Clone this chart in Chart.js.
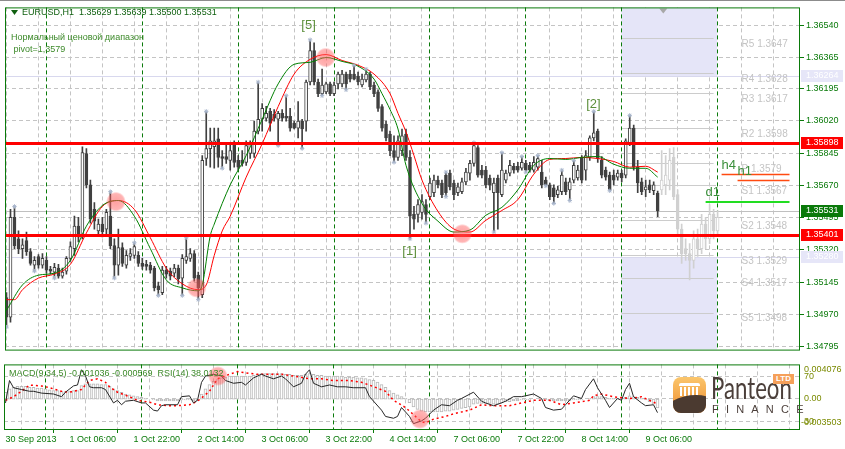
<!DOCTYPE html>
<html lang="ru">
<head>
<meta charset="UTF-8">
<title>EURUSD,H1</title>
<script src="https://cdn.jsdelivr.net/npm/chart.js"></script>
<style>
  body { margin: 0; background: #fff; }
  #wrap { position: relative; width: 845px; height: 449px; overflow: hidden; background: #fff; }
  #wrap:before { content: ''; position: absolute; left: 0; top: 0; width: 845px; height: 1px; background: #8c8c8c; }
  #main { position: absolute; left: 0; top: 0; }
  #sub { position: absolute; left: 0; top: 355px; }
  #logo { position: absolute; left: 671px; top: 372px; width: 128px; height: 45px; }
  #logo .icon { position: absolute; left: 2px; top: 5px; width: 33px; height: 36px; border-radius: 8px; overflow: hidden;
    background: linear-gradient(#fbc66c, #ee8d2f); }
  #logo .roof { position: absolute; left: 6px; top: 6px; width: 21px; height: 3px; background: #fff; border-radius: 2px 2px 0 0; }
  #logo .cols { position: absolute; left: 7px; top: 10px; width: 19px; height: 9px;
    background: repeating-linear-gradient(90deg, #fff 0 2px, transparent 2px 4px); }
  #logo .swoosh { position: absolute; left: -16px; top: 19px; width: 64px; height: 40px; border-radius: 50%;
    background: #4b3a30; transform: rotate(-14deg); }
  #logo .name { position: absolute; left: 40px; top: -3px; font: 30px Lato, sans-serif; color: #4b3f3a;
    transform: scaleX(0.74); transform-origin: left top; }
  #logo .ltd { position: absolute; left: 102px; top: 2px; width: 21px; height: 10px; background: #f5a05a; color: #fff;
    font: bold 8px "Liberation Sans", Arial, sans-serif; text-align: center; line-height: 10px; }
  #logo .fin { position: absolute; left: 41px; top: 31px; font: 11px "Liberation Sans", Arial, sans-serif;
    letter-spacing: 7.2px; color: #4b3f3a; }
</style>
</head>
<body>
<div id="wrap">
  <canvas id="main" width="845" height="357"></canvas>
  <canvas id="sub" width="845" height="94"></canvas>
  <div id="logo">
    <div class="icon"><div class="roof"></div><div class="cols"></div><div class="swoosh"></div></div>
    <div class="name">Panteon</div>
    <div class="ltd">LTD</div>
    <div class="fin">FINANCE</div>
  </div>
</div>
<script>
// EURUSD H1, bar 0 = 30 Sep 14:00, one bar per hour
const opens = [
  1.35061, 1.34955, 1.35497, 1.35380, 1.35327, 1.35370, 1.35311, 1.35237, 1.35284, 1.35237,
  1.35263, 1.35215, 1.35199, 1.35221, 1.35178, 1.35205, 1.35274, 1.35327, 1.35449, 1.35396,
  1.35843, 1.35673, 1.35540, 1.35423, 1.35460, 1.35433, 1.35503, 1.35343, 1.35237, 1.35332,
  1.35237, 1.35284, 1.35290, 1.35290, 1.35247, 1.35242, 1.35237, 1.35221, 1.35125, 1.35088,
  1.35210, 1.35205, 1.35194, 1.35221, 1.35167, 1.35263, 1.35274, 1.35300, 1.35183, 1.35077,
  1.35816, 1.35870, 1.35880, 1.35923, 1.35827, 1.35827, 1.35806, 1.35896, 1.35806, 1.35806,
  1.35795, 1.35843, 1.35843, 1.35965, 1.36029, 1.36035, 1.36072, 1.36056, 1.36029, 1.36061,
  1.36045, 1.36045, 1.36008, 1.35981, 1.36019, 1.36019, 1.36231, 1.36402, 1.36231, 1.36168,
  1.36178, 1.36221, 1.36168, 1.36221, 1.36221, 1.36274, 1.36274, 1.36274, 1.36263, 1.36215,
  1.36242, 1.36274, 1.36215, 1.36178, 1.36098, 1.36003, 1.35949, 1.35859, 1.35822, 1.35859,
  1.35949, 1.35822, 1.35513, 1.35513, 1.35524, 1.35566, 1.35609, 1.35630, 1.35699, 1.35683,
  1.35726, 1.35737, 1.35683, 1.35630, 1.35636, 1.35689, 1.35737, 1.35790, 1.35875, 1.35753,
  1.35753, 1.35710, 1.35630, 1.35710, 1.35620, 1.35699, 1.35737, 1.35774, 1.35774, 1.35763,
  1.35790, 1.35779, 1.35753, 1.35769, 1.35742, 1.35699, 1.35673, 1.35657, 1.35620, 1.35636,
  1.35689, 1.35646, 1.35699, 1.35710, 1.35822, 1.35753, 1.35822, 1.35928, 1.35965, 1.35806,
  1.35753, 1.35726, 1.35726, 1.35715, 1.35737, 1.35726, 1.35902, 1.35981, 1.35769, 1.35689,
  1.35646, 1.35673, 1.35641, 1.35629
];
const highs = [
  1.35088, 1.35540, 1.35556, 1.35423, 1.35380, 1.35417, 1.35327, 1.35284, 1.35295, 1.35300,
  1.35284, 1.35231, 1.35247, 1.35242, 1.35221, 1.35284, 1.35364, 1.35503, 1.35497, 1.35880,
  1.35870, 1.35699, 1.35577, 1.35487, 1.35497, 1.35540, 1.35636, 1.35380, 1.35433, 1.35359,
  1.35316, 1.35327, 1.35359, 1.35311, 1.35274, 1.35263, 1.35253, 1.35231, 1.35146, 1.35231,
  1.35231, 1.35221, 1.35242, 1.35237, 1.35295, 1.35386, 1.35327, 1.35316, 1.35199, 1.35832,
  1.36072, 1.35981, 1.35981, 1.35981, 1.35859, 1.35896, 1.35902, 1.35912, 1.35832, 1.35859,
  1.35912, 1.35912, 1.36019, 1.36231, 1.36114, 1.36099, 1.36088, 1.36082, 1.36072, 1.36082,
  1.36157, 1.36088, 1.36019, 1.36125, 1.36029, 1.36242, 1.36460, 1.36444, 1.36247, 1.36301,
  1.36231, 1.36231, 1.36231, 1.36285, 1.36295, 1.36285, 1.36295, 1.36322, 1.36285, 1.36274,
  1.36301, 1.36285, 1.36231, 1.36189, 1.36109, 1.36019, 1.35965, 1.35939, 1.35939, 1.35976,
  1.35976, 1.35859, 1.35556, 1.35593, 1.35620, 1.35593, 1.35710, 1.35726, 1.35721, 1.35699,
  1.35742, 1.35753, 1.35699, 1.35683, 1.35710, 1.35763, 1.35806, 1.35902, 1.35886, 1.35779,
  1.35774, 1.35726, 1.35710, 1.35726, 1.35848, 1.35753, 1.35806, 1.35790, 1.35795, 1.35827,
  1.35806, 1.35795, 1.35827, 1.35832, 1.35806, 1.35715, 1.35683, 1.35673, 1.35667, 1.35753,
  1.35710, 1.35710, 1.35806, 1.35779, 1.35832, 1.35859, 1.35939, 1.36072, 1.35976, 1.35827,
  1.35769, 1.35742, 1.35753, 1.35753, 1.35753, 1.35923, 1.36050, 1.35997, 1.35806, 1.35710,
  1.35699, 1.35699, 1.35689, 1.35639
];
const lows = [
  1.34901, 1.34928, 1.35327, 1.35300, 1.35274, 1.35290, 1.35237, 1.35205, 1.35221, 1.35221,
  1.35194, 1.35189, 1.35167, 1.35167, 1.35167, 1.35189, 1.35258, 1.35290, 1.35364, 1.35380,
  1.35657, 1.35465, 1.35433, 1.35401, 1.35391, 1.35407, 1.35327, 1.35167, 1.35183, 1.35231,
  1.35221, 1.35263, 1.35274, 1.35231, 1.35215, 1.35210, 1.35194, 1.35098, 1.35072, 1.35077,
  1.35167, 1.35157, 1.35173, 1.35136, 1.35072, 1.35247, 1.35258, 1.35151, 1.35050, 1.35061,
  1.35779, 1.35769, 1.35763, 1.35769, 1.35763, 1.35790, 1.35753, 1.35769, 1.35753, 1.35774,
  1.35779, 1.35816, 1.35822, 1.35949, 1.35965, 1.36019, 1.35965, 1.36019, 1.35886, 1.36019,
  1.36019, 1.35965, 1.35976, 1.35928, 1.35870, 1.35965, 1.36215, 1.36215, 1.36152, 1.36157,
  1.36168, 1.36157, 1.36157, 1.36194, 1.36205, 1.36189, 1.36231, 1.36242, 1.36215, 1.36205,
  1.36231, 1.36189, 1.36152, 1.36072, 1.35965, 1.35912, 1.35832, 1.35795, 1.35806, 1.35832,
  1.35806, 1.35380, 1.35433, 1.35471, 1.35487, 1.35465, 1.35593, 1.35609, 1.35657, 1.35604,
  1.35609, 1.35646, 1.35593, 1.35614, 1.35625, 1.35673, 1.35699, 1.35774, 1.35715, 1.35710,
  1.35657, 1.35646, 1.35417, 1.35433, 1.35609, 1.35683, 1.35721, 1.35737, 1.35742, 1.35753,
  1.35742, 1.35742, 1.35742, 1.35753, 1.35657, 1.35667, 1.35593, 1.35572, 1.35604, 1.35620,
  1.35620, 1.35588, 1.35683, 1.35699, 1.35683, 1.35699, 1.35806, 1.35912, 1.35795, 1.35710,
  1.35699, 1.35641, 1.35673, 1.35699, 1.35689, 1.35710, 1.35886, 1.35753, 1.35630, 1.35620,
  1.35609, 1.35630, 1.35620, 1.35500
];
const closes = [
  1.34955, 1.35497, 1.35343, 1.35327, 1.35348, 1.35311, 1.35247, 1.35263, 1.35237, 1.35274,
  1.35210, 1.35205, 1.35226, 1.35178, 1.35199, 1.35274, 1.35338, 1.35449, 1.35391, 1.35848,
  1.35673, 1.35487, 1.35476, 1.35460, 1.35417, 1.35524, 1.35343, 1.35237, 1.35332, 1.35247,
  1.35290, 1.35300, 1.35338, 1.35247, 1.35231, 1.35231, 1.35210, 1.35114, 1.35104, 1.35210,
  1.35189, 1.35178, 1.35221, 1.35162, 1.35274, 1.35284, 1.35300, 1.35167, 1.35114, 1.35806,
  1.35870, 1.35912, 1.35912, 1.35822, 1.35816, 1.35811, 1.35859, 1.35795, 1.35769, 1.35790,
  1.35886, 1.35896, 1.35965, 1.36029, 1.36088, 1.36061, 1.36008, 1.36035, 1.36061, 1.36035,
  1.36035, 1.35981, 1.35981, 1.36019, 1.35976, 1.36231, 1.36402, 1.36231, 1.36168, 1.36215,
  1.36221, 1.36168, 1.36215, 1.36274, 1.36274, 1.36221, 1.36247, 1.36247, 1.36231, 1.36247,
  1.36274, 1.36205, 1.36168, 1.36088, 1.35981, 1.35928, 1.35859, 1.35822, 1.35912, 1.35939,
  1.35822, 1.35503, 1.35487, 1.35566, 1.35582, 1.35513, 1.35683, 1.35699, 1.35673, 1.35620,
  1.35630, 1.35662, 1.35620, 1.35662, 1.35689, 1.35742, 1.35790, 1.35886, 1.35726, 1.35726,
  1.35673, 1.35673, 1.35683, 1.35630, 1.35753, 1.35737, 1.35779, 1.35753, 1.35753, 1.35795,
  1.35753, 1.35753, 1.35795, 1.35816, 1.35673, 1.35673, 1.35609, 1.35609, 1.35646, 1.35726,
  1.35636, 1.35689, 1.35779, 1.35753, 1.35699, 1.35832, 1.35928, 1.35955, 1.35816, 1.35726,
  1.35715, 1.35646, 1.35699, 1.35737, 1.35710, 1.35912, 1.35981, 1.35769, 1.35683, 1.35636,
  1.35662, 1.35646, 1.35673, 1.35531
];

// projected (light grey) bars after the last real bar
const ghostStart = 164;
const ghostOpen  = [1.35646, 1.35673, 1.35699, 1.35822, 1.35620, 1.35433, 1.35327, 1.35300, 1.35263, 1.35380, 1.35327, 1.35460, 1.35380, 1.35513, 1.35423];
const ghostHigh  = [1.35859, 1.35832, 1.35870, 1.35875, 1.35646, 1.35460, 1.35380, 1.35354, 1.35423, 1.35433, 1.35513, 1.35497, 1.35566, 1.35540, 1.35534];
const ghostLow   = [1.35620, 1.35620, 1.35646, 1.35593, 1.35407, 1.35247, 1.35263, 1.35157, 1.35221, 1.35284, 1.35300, 1.35327, 1.35354, 1.35380, 1.35401];
const ghostClose = [1.35699, 1.35726, 1.35806, 1.35609, 1.35433, 1.35300, 1.35300, 1.35263, 1.35380, 1.35327, 1.35460, 1.35380, 1.35513, 1.35423, 1.35497];

// moving averages: [bar, price]
const maFast = [[0,1.34992],[4,1.35130],[8,1.35183],[12,1.35194],[16,1.35263],[20,1.35449],[24,1.35561],[28,1.35588],
  [32,1.35503],[36,1.35327],[40,1.35157],[44,1.35114],[48,1.35098],[49,1.35130],[51,1.35396],[52,1.35460],[56,1.35673],
  [60,1.35832],[64,1.36029],[68,1.36221],[72,1.36327],[76,1.36338],[80,1.36364],[84,1.36343],[88,1.36317],[92,1.36247],
  [94,1.36168],[96,1.36082],[98,1.35976],[100,1.35779],[104,1.35572],[108,1.35476],[112,1.35417],[116,1.35428],
  [120,1.35508],[124,1.35551],[128,1.35646],[132,1.35779],[136,1.35816],[140,1.35811],[144,1.35822],[148,1.35827],
  [152,1.35785],[156,1.35763],[160,1.35763],[163,1.35715]];
const maSlow = [[0,1.35050],[2,1.35050],[4,1.35104],[8,1.35167],[12,1.35189],[16,1.35242],[20,1.35412],[24,1.35556],
  [28,1.35588],[32,1.35540],[36,1.35386],[40,1.35221],[44,1.35136],[48,1.35104],[50,1.35130],[52,1.35290],[54,1.35423],
  [56,1.35503],[60,1.35715],[64,1.35896],[68,1.36098],[72,1.36274],[76,1.36354],[80,1.36380],[84,1.36348],[88,1.36322],
  [92,1.36274],[96,1.36168],[98,1.36061],[100,1.35960],[102,1.35832],[104,1.35699],[108,1.35529],[112,1.35433],
  [116,1.35417],[120,1.35481],[124,1.35534],[128,1.35593],[132,1.35731],[136,1.35811],[140,1.35816],[144,1.35822],
  [148,1.35816],[152,1.35800],[156,1.35769],[160,1.35774],[163,1.35742]];

// fractal marks (bar numbers)
const fractalUp = [2, 26, 32, 45, 50, 63, 70, 76, 87, 90, 110, 117, 124, 129, 133, 139, 142, 147, 156];
const fractalDown = [0, 7, 12, 27, 38, 44, 48, 54, 68, 74, 79, 85, 97, 101, 105, 110, 122, 130, 135, 137, 141, 151];

// MACD(9,34,5) main, one per bar
const macd = [
  0.0008, 0.0012, 0.0014, 0.0015, 0.0015, 0.0015, 0.0014, 0.0014, 0.0013, 0.0013,
  0.0012, 0.0011, 0.0010, 0.0010, 0.0009, 0.0009, 0.0009, 0.0010, 0.0010, 0.0016,
  0.0018, 0.0018, 0.0018, 0.0018, 0.0017, 0.0017, 0.0015, 0.0012, 0.0010, 0.0008,
  0.0006, 0.0005, 0.0004, 0.0003, 0.0002, 0.0001, 0.0000, -0.0001, -0.0002, -0.0002,
  -0.0002, -0.0002, -0.0002, -0.0002, -0.0001, -0.0001, -0.0001, -0.0002, -0.0002, 0.0006,
  0.0012, 0.0017, 0.0021, 0.0023, 0.0025, 0.0026, 0.0027, 0.0027, 0.0027, 0.0027,
  0.0027, 0.0027, 0.0028, 0.0029, 0.0030, 0.0030, 0.0030, 0.0030, 0.0030, 0.0030,
  0.0029, 0.0029, 0.0028, 0.0028, 0.0028, 0.0029, 0.0030, 0.0029, 0.0028, 0.0028,
  0.0027, 0.0027, 0.0027, 0.0027, 0.0027, 0.0026, 0.0026, 0.0026, 0.0025, 0.0025,
  0.0024, 0.0023, 0.0022, 0.0020, 0.0017, 0.0014, 0.0010, 0.0007, 0.0005, 0.0003,
  0.0001, -0.0004, -0.0009, -0.0012, -0.0014, -0.0015, -0.0015, -0.0015, -0.0015, -0.0015,
  -0.0014, -0.0014, -0.0013, -0.0012, -0.0011, -0.0010, -0.0009, -0.0006, -0.0005, -0.0005,
  -0.0005, -0.0005, -0.0006, -0.0006, -0.0004, -0.0003, -0.0003, -0.0002, -0.0002, -0.0001,
  -0.0001, -0.0001, 0.0000, 0.0000, -0.0001, -0.0001, -0.0002, -0.0002, -0.0002, -0.0002,
  -0.0002, -0.0002, -0.0001, -0.0001, -0.0001, 0.0000, 0.0001, 0.0003, 0.0003, 0.0003,
  0.0002, 0.0001, 0.0001, 0.0001, 0.0000, 0.0002, 0.0004, 0.0003, 0.0002, 0.0001,
  -0.0001, -0.0003, -0.0006, -0.001036
];
const macdSignal = [[0,-0.00014],[2,0.00028],[4,0.00092],[6,0.00165],[9,0.00155],[11,0.00134],[14,0.00092],[16,0.00081],
  [19,0.00113],[21,0.00218],[23,0.00239],[25,0.00197],[26,0.00144],[28,0.00081],[31,0.00028],[33,-0.00014],[36,-0.00035],
  [38,-0.00066],[41,-0.00077],[43,-0.00077],[46,-0.00066],[48,-0.00024],[51,0.00092],[53,0.00239],[56,0.00292],[58,0.00323],
  [61,0.00302],[63,0.00292],[66,0.00292],[69,0.00292],[72,0.00271],[76,0.00239],[79,0.00239],[82,0.00218],[86,0.00218],
  [89,0.00197],[91,0.00165],[95,0.00092],[97,-0.00014],[100,-0.00098],[102,-0.00182],[104,-0.00266],[105,-0.00277],
  [107,-0.00235],[110,-0.00203],[112,-0.00172],[116,-0.00129],[119,-0.00066],[122,-0.00077],[126,-0.00077],[129,-0.00045],
  [132,-0.00014],[136,-0.00014],[139,-0.00066],[142,-0.00045],[146,-0.00014],[147,0.00039],[149,0.00060],[152,0.00028],
  [156,0.00007],[159,0.00028],[162,-0.00035],[163,-0.000569]];
const rsi = [[0,46.5],[1,66.1],[2,59.8],[4,58.2],[6,56.7],[7,56.7],[9,55.1],[12,54.3],[14,52.0],[15,55.9],[17,61.4],
  [18,62.2],[19,75.5],[20,70.0],[21,60.6],[22,59.8],[24,59.8],[25,58.2],[27,46.5],[28,48.8],[29,44.9],[30,48.0],[32,48.8],
  [34,46.5],[35,46.5],[37,40.2],[38,39.4],[39,44.1],[40,44.9],[43,44.9],[44,52.0],[46,52.7],[47,46.5],[48,48.8],[49,64.5],
  [50,70.0],[52,71.6],[54,70.0],[55,66.1],[57,63.7],[59,64.5],[60,62.2],[62,68.4],[64,71.6],[65,70.0],[67,67.6],[69,70.0],
  [70,67.6],[72,60.6],[74,63.7],[75,71.6],[76,75.5],[77,63.7],[79,60.6],[81,62.2],[83,60.6],[85,60.6],[87,59.8],[90,59.8],
  [91,52.0],[94,40.2],[95,34.7],[97,33.1],[98,34.7],[99,42.5],[101,34.7],[102,28.4],[104,30.8],[105,33.1],[107,40.2],
  [109,44.9],[111,44.1],[113,48.8],[114,50.4],[117,55.9],[119,48.0],[120,46.5],[122,44.1],[124,46.5],[125,48.0],[127,52.0],
  [129,52.0],[130,52.7],[132,54.3],[134,50.4],[135,42.5],[137,40.2],[139,41.0],[140,44.9],[142,52.7],[144,50.4],[145,58.2],
  [147,67.6],[148,59.8],[150,48.8],[151,42.5],[153,50.4],[154,48.8],[155,58.2],[156,63.7],[157,52.0],[159,46.5],[160,44.1],
  [162,44.9],[163,38.0]];

// axis ticks and labels
const timeLabels = ['30 Sep 2013', '1 Oct 06:00', '1 Oct 22:00', '2 Oct 14:00', '3 Oct 06:00', '3 Oct 22:00',
  '4 Oct 14:00', '7 Oct 06:00', '7 Oct 22:00', '8 Oct 14:00', '9 Oct 06:00'];
const priceTicks = [1.34795, 1.34970, 1.35145, 1.35320, 1.35495, 1.35670, 1.35845, 1.36020, 1.36195, 1.36365, 1.36540];
const daySeparators = [10, 34, 58, 82, 106, 130, 154, 178];

// chart objects
const redLevels = [1.35898, 1.35401];
const bidPrice = 1.35531;
const zoneLevels = [1.36264, 1.35280];
const zoneFrom = 153.9, zoneTo = 177.9;
const pivotNames = ['R5', 'R4', 'R3', 'R2', 'P', 'S1', 'S2', 'S3', 'S4', 'S5'];
const pivotValues = [1.3647, 1.3628, 1.3617, 1.3598, 1.3579, 1.3567, 1.3548, 1.3529, 1.3517, 1.3498];
const pivotFrom = 154, pivotTo = 177, pivotLabelAt = 184;
const tfNames = ['h4', 'h1', 'd1'];
const tfLevels = [1.35731, 1.35699, 1.35582];
const tfFrom = [179, 183, 175], tfTo = 196;
const waveLabels = [['[5]', 75.6, 1.36540], ['[2]', 146.9, 1.36109], ['[1]', 100.9, 1.35311]];
const mainCircles = [[27.4, 1.35582], [79.9, 1.36364], [47.6, 1.35114], [114.1, 1.35407]];
const subCircles = [[53.1, 70.0], [103.6, 32.4]];

const GREEN = '#0a7a0a';
const TXT = '#3d8a2a';
const FONT = '"Liberation Sans", Arial, sans-serif';
Chart.defaults.font.family = FONT;
Chart.defaults.font.size = 9;

const xMin = -0.375, xMax = 198.625;

function xAxis() {
  return {
    type: 'linear', min: xMin, max: xMax, offset: false,
    afterBuildTicks: s => { s.ticks = []; for (let v = 0; v <= 192; v += 8) s.ticks.push({ value: v }); },
    grid: { color: '#c4c4c4', drawTicks: false, offset: false },
    border: { display: false, dash: [4, 3] }
  };
}

function circle(ctx, x, y) {
  const g = ctx.createRadialGradient(x, y, 2, x, y, 10);
  g.addColorStop(0, 'rgba(255,90,90,0.55)');
  g.addColorStop(0.75, 'rgba(255,90,90,0.45)');
  g.addColorStop(1, 'rgba(255,90,90,0)');
  ctx.fillStyle = g;
  ctx.beginPath(); ctx.arc(x, y, 10, 0, Math.PI * 2); ctx.fill();
}

function hline(ctx, y, x0, x1, color, w) {
  const yy = Math.round(y) + (w % 2 ? 0.5 : 0);
  ctx.strokeStyle = color; ctx.lineWidth = w;
  ctx.beginPath(); ctx.moveTo(x0, yy); ctx.lineTo(x1, yy); ctx.stroke();
}

function separators(chart) {
  const { ctx, chartArea: a, scales: { x } } = chart;
  ctx.save();
  ctx.setLineDash([4, 3]);
  ctx.strokeStyle = '#0a7a0a'; ctx.lineWidth = 1;
  daySeparators.forEach(i => {
    const px = Math.floor(x.getPixelForValue(i)) + 0.5;
    ctx.beginPath(); ctx.moveTo(px, a.top); ctx.lineTo(px, a.bottom); ctx.stroke();
  });
  ctx.restore();
}

function frame(chart) {
  const { ctx, chartArea: a } = chart;
  ctx.save();
  ctx.strokeStyle = '#0a7a0a'; ctx.lineWidth = 1;
  ctx.strokeRect(a.left + 0.5, a.top + 0.5, a.right - a.left - 1, a.bottom - a.top);
  ctx.restore();
}

const mainDecor = {
  id: 'mainDecor',
  beforeDatasetsDraw(chart) {
    const { ctx, chartArea: a, scales: { x, y } } = chart;
    ctx.save();
    ctx.beginPath(); ctx.rect(a.left, a.top, a.right - a.left, a.bottom - a.top); ctx.clip();
    // time zones
    const zx0 = x.getPixelForValue(zoneFrom), zx1 = x.getPixelForValue(zoneTo);
    ctx.fillStyle = '#e5e5f8';
    ctx.fillRect(zx0, a.top, zx1 - zx0, y.getPixelForValue(zoneLevels[0]) - a.top);
    const zb = y.getPixelForValue(zoneLevels[1]);
    ctx.fillRect(zx0, zb, zx1 - zx0, a.bottom - zb);
    zoneLevels.forEach(v => hline(ctx, y.getPixelForValue(v), a.left, a.right, '#d8d8ee', 1));
    hline(ctx, y.getPixelForValue(bidPrice), a.left, a.right, '#c0c0c0', 1);
    // pivots
    pivotValues.forEach(v => hline(ctx, y.getPixelForValue(v), x.getPixelForValue(pivotFrom), x.getPixelForValue(pivotTo), '#cccccc', 1));
    ctx.restore();
    separators(chart);
  },
  afterDatasetsDraw(chart) {
    const { ctx, chartArea: a, scales: { x, y } } = chart;
    ctx.save();
    ctx.beginPath(); ctx.rect(a.left, a.top, a.right - a.left, a.bottom - a.top); ctx.clip();
    redLevels.forEach(v => hline(ctx, y.getPixelForValue(v), a.left, a.right, '#ff0000', 3));
    tfLevels.forEach((v, k) => hline(ctx, y.getPixelForValue(v), x.getPixelForValue(tfFrom[k]), x.getPixelForValue(tfTo),
      k < 2 ? '#ff4a10' : '#22dd22', k < 2 ? 1.5 : 2));
    mainCircles.forEach(([i, v]) => circle(ctx, x.getPixelForValue(i), y.getPixelForValue(v)));
    // texts
    ctx.textBaseline = 'middle';
    ctx.font = '10px ' + FONT;
    ctx.fillStyle = '#c4c4c4';
    pivotNames.forEach((n, k) => ctx.fillText(n + ' ' + pivotValues[k].toFixed(4), x.getPixelForValue(pivotLabelAt), y.getPixelForValue(pivotValues[k]) + 6));
    ctx.font = '13px ' + FONT;
    ctx.fillStyle = '#3a8f3a';
    tfNames.forEach((n, k) => ctx.fillText(n, x.getPixelForValue(tfFrom[k]), y.getPixelForValue(tfLevels[k]) - 9));
    ctx.fillStyle = '#5b8e3a';
    ctx.textAlign = 'center';
    waveLabels.forEach(([t, i, v]) => ctx.fillText(t, x.getPixelForValue(i), y.getPixelForValue(v)));
    ctx.textAlign = 'left';
    ctx.font = '9px ' + FONT;
    ctx.fillStyle = TXT;
    ctx.fillText('Нормальный ценовой диапазон', a.left + 6, 38);
    ctx.fillText(' pivot=1,3579', a.left + 6, 50);
    ctx.fillStyle = '#106010';
    ctx.fillText('EURUSD,H1  1.35629 1.35639 1.35500 1.35531', a.left + 17, 13);
    ctx.beginPath(); ctx.moveTo(a.left + 6, 10); ctx.lineTo(a.left + 13, 10); ctx.lineTo(a.left + 9.5, 15); ctx.closePath(); ctx.fill();
    // shift marker
    const sx = x.getPixelForValue(164.4);
    ctx.fillStyle = '#a8a8a8';
    ctx.beginPath(); ctx.moveTo(sx - 4, a.top + 1); ctx.lineTo(sx + 4, a.top + 1); ctx.lineTo(sx, a.top + 6); ctx.closePath(); ctx.fill();
    ctx.restore();
  },
  afterDraw(chart) {
    const { ctx, chartArea: a, scales: { y } } = chart;
    frame(chart);
    ctx.save();
    ctx.textBaseline = 'middle';
    ctx.font = '9px ' + FONT;
    const boxes = [[zoneLevels[0], '#e6e6f8'], [zoneLevels[1], '#e6e6f8'], [redLevels[0], '#ff0000'], [redLevels[1], '#ff0000'], [bidPrice, '#0a7a0a']];
    boxes.forEach(([v, bg]) => {
      const py = Math.round(y.getPixelForValue(v));
      ctx.fillStyle = bg;
      ctx.fillRect(a.right + 1, py - 6, 42, 12);
      ctx.fillStyle = '#ffffff';
      ctx.fillText(v.toFixed(5), a.right + 6, py);
    });
    ctx.restore();
  }
};

const candleData = opens.map((o, i) => ({ x: i, y: [o, closes[i]] }));
const wickData = opens.map((o, i) => ({ x: i, y: [lows[i], highs[i]] }));
const ghostCandle = ghostOpen.map((o, k) => ({ x: ghostStart + k, y: [o, ghostClose[k]] }));
const ghostWick = ghostOpen.map((o, k) => ({ x: ghostStart + k, y: [ghostLow[k], ghostHigh[k]] }));

new Chart(document.getElementById('main'), {
  type: 'bar',
  data: {
    datasets: [
      { label: 'ghost wick', data: ghostWick, backgroundColor: '#d0d0d0', barThickness: 1, grouped: false, order: 9 },
      { label: 'ghost body', data: ghostCandle, barThickness: 3, grouped: false, minBarLength: 1, order: 8,
        backgroundColor: ghostOpen.map((o, k) => ghostClose[k] >= o ? '#ffffff' : '#d0d0d0'),
        borderColor: '#d0d0d0', borderWidth: 1, borderSkipped: false },
      { label: 'wick', data: wickData, backgroundColor: '#404040', barThickness: 1, grouped: false, order: 7 },
      { label: 'body', data: candleData, barThickness: 3, grouped: false, minBarLength: 1, order: 6,
        backgroundColor: opens.map((o, i) => closes[i] >= o ? '#ffffff' : '#404040'),
        borderColor: '#404040', borderWidth: 1, borderSkipped: false },
      { type: 'line', label: 'MA slow', data: maSlow.map(([i, v]) => ({ x: i, y: v })), borderColor: '#ff0000',
        borderWidth: 1, pointRadius: 0, cubicInterpolationMode: 'monotone', order: 5 },
      { type: 'line', label: 'MA fast', data: maFast.map(([i, v]) => ({ x: i, y: v })), borderColor: '#008000',
        borderWidth: 1, pointRadius: 0, cubicInterpolationMode: 'monotone', order: 4 },
      { type: 'scatter', label: 'fractals',
        data: fractalUp.map(i => ({ x: i, y: highs[i] })).concat(fractalDown.map(i => ({ x: i, y: lows[i] }))),
        pointStyle: 'star', pointRadius: 2.2, borderColor: '#a9b6cc', borderWidth: 1, order: 3 }
    ]
  },
  options: {
    responsive: false, animation: false,
    layout: { padding: { left: 4, top: 4, right: 0, bottom: 4 } },
    plugins: { legend: { display: false }, tooltip: { enabled: false } },
    scales: {
      x: Object.assign(xAxis(), { ticks: { display: false }, afterFit: s => { s.height = 0; } }),
      y: {
        position: 'right', min: 1.34779, max: 1.36636,
        afterBuildTicks: s => { s.ticks = priceTicks.map(v => ({ value: v })); },
        afterFit: s => { s.width = 45; },
        grid: { color: '#c4c4c4', tickColor: GREEN, tickLength: 4, tickBorderDash: [] },
        border: { display: false, dash: [4, 3] },
        ticks: { color: GREEN, padding: 2, callback: v => v.toFixed(5) }
      }
    }
  },
  plugins: [mainDecor]
});

const subDecor = {
  id: 'subDecor',
  beforeDatasetsDraw(chart) { separators(chart); },
  afterDatasetsDraw(chart) {
    const { ctx, chartArea: a, scales: { x, y } } = chart;
    ctx.save();
    ctx.beginPath(); ctx.rect(a.left, a.top, a.right - a.left, a.bottom - a.top); ctx.clip();
    subCircles.forEach(([i, v]) => circle(ctx, x.getPixelForValue(i), y.getPixelForValue(v)));
    ctx.restore();
  },
  afterDraw(chart) {
    const { ctx, chartArea: a } = chart;
    frame(chart);
    ctx.save();
    ctx.textBaseline = 'middle';
    ctx.font = '9px ' + FONT;
    ctx.fillStyle = TXT;
    ctx.fillText('MACD(9,34,5) -0.001036 -0.000569  RSI(14) 38.0132', a.left + 5, a.top + 9);
    ctx.fillStyle = '#7a8a00';
    ctx.fillText('0.004076', a.right + 4, a.top + 5);
    ctx.fillText('-0.003503', a.right + 1, a.bottom - 6);
    ctx.restore();
  }
};

new Chart(document.getElementById('sub'), {
  type: 'bar',
  data: {
    datasets: [
      { type: 'line', label: 'RSI(14)', data: rsi.map(([i, v]) => ({ x: i, y: v })), yAxisID: 'y',
        borderColor: '#262626', borderWidth: 1, pointRadius: 0, order: 1 },
      { type: 'line', label: 'Signal', data: macdSignal.map(([i, v]) => ({ x: i, y: v })), yAxisID: 'ym',
        borderColor: '#ff0000', borderWidth: 1.5, borderDash: [2, 3], pointRadius: 0, order: 2 },
      { label: 'MACD', data: macd.map((v, i) => ({ x: i, y: v })), yAxisID: 'ym', barThickness: 3, grouped: false,
        backgroundColor: '#ffffff', borderColor: '#b8b8b8', borderWidth: 1, borderSkipped: false, order: 3 }
    ]
  },
  options: {
    responsive: false, animation: false,
    layout: { padding: { left: 4, top: 2, right: 0, bottom: 0 } },
    plugins: { legend: { display: false }, tooltip: { enabled: false } },
    scales: {
      x: Object.assign(xAxis(), {
        afterFit: s => { s.height = 20; },
        grid: { color: '#c4c4c4', drawTicks: true, tickLength: 4, tickBorderDash: [],
          tickColor: c => (c.tick && c.tick.value % 16 === 0 && c.tick.value / 16 < timeLabels.length) ? GREEN : 'rgba(0,0,0,0)' },
        ticks: { autoSkip: false, maxRotation: 0, align: 'start', padding: 1, color: GREEN,
          callback: v => (v % 16 === 0 && v / 16 < timeLabels.length) ? timeLabels[v / 16] : '' }
      }),
      y: {
        position: 'right', min: 23.7, max: 80.2,
        afterBuildTicks: s => { s.ticks = [30, 50, 70].map(v => ({ value: v })); },
        afterFit: s => { s.width = 45; },
        grid: { color: '#c4c4c4', drawTicks: false },
        border: { display: false, dash: [4, 3] },
        ticks: { color: '#7a8a00', padding: 4, callback: v => v === 50 ? '0.00' : String(v) }
      },
      ym: { display: false, min: -0.003503, max: 0.004076 }
    }
  },
  plugins: [subDecor]
});
</script>
</body>
</html>
